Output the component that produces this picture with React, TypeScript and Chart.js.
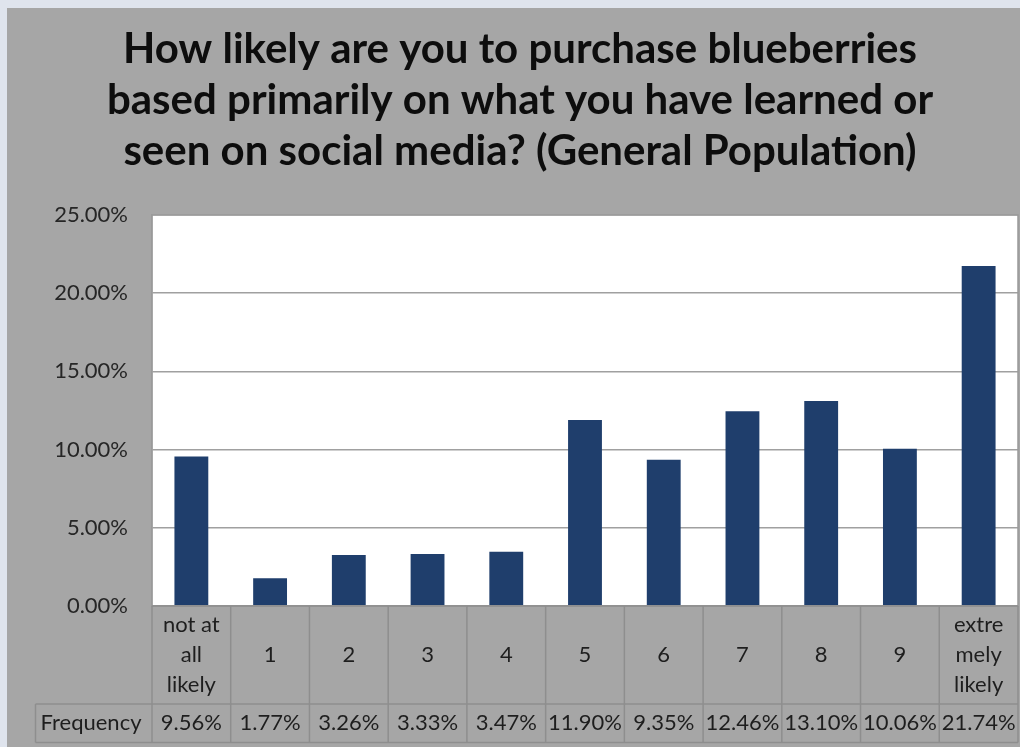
import React, { useEffect, useRef } from "react";
import { Chart, registerables } from "chart.js";

Chart.register(...registerables);

const titleLines = [
  "How likely are you to purchase blueberries",
  "based primarily on what you have learned or",
  "seen on social media? (General Population)",
];
const categoryLabels: string[][] = [
  ["not at", "all", "likely"],
  ["1"],
  ["2"],
  ["3"],
  ["4"],
  ["5"],
  ["6"],
  ["7"],
  ["8"],
  ["9"],
  ["extre", "mely", "likely"],
];
const frequencyValues = [9.56, 1.77, 3.26, 3.33, 3.47, 11.9, 9.35, 12.46, 13.1, 10.06, 21.74];
const seriesName = "Frequency";
const yTicks = [0, 5, 10, 15, 20, 25];

const FONT = "Lato, 'Open Sans', sans-serif";
const TEXT = "#1e1e1e";
const LINE = "#8e8e8e";

const tablePlugin = {
  id: "dataTable",
  beforeDraw(chart: any) {
    const { ctx, chartArea } = chart;
    ctx.save();
    ctx.fillStyle = "#ffffff";
    ctx.fillRect(chartArea.left, chartArea.top, chartArea.right - chartArea.left, chartArea.bottom - chartArea.top);
    ctx.restore();
  },
  afterDraw(chart: any) {
    const { ctx, chartArea } = chart;
    const xs = chart.scales.x;
    const n = categoryLabels.length;
    const colW = (chartArea.right - chartArea.left) / n;
    const top = chartArea.bottom;
    const catBottom = top + 98;
    const freqBottom = catBottom + 38.5;
    const labelLeft = 28.5;

    ctx.save();
    // plot frame
    ctx.strokeStyle = "#9a9a9a";
    ctx.lineWidth = 1.5;
    ctx.strokeRect(chartArea.left, chartArea.top, chartArea.right - chartArea.left, chartArea.bottom - chartArea.top);

    // table lines
    ctx.strokeStyle = LINE;
    ctx.lineWidth = 1.5;
    ctx.beginPath();
    ctx.moveTo(chartArea.left, top);
    ctx.lineTo(chartArea.right, top);
    ctx.moveTo(labelLeft, catBottom);
    ctx.lineTo(chartArea.right, catBottom);
    ctx.moveTo(labelLeft, freqBottom);
    ctx.lineTo(chartArea.right, freqBottom);
    ctx.moveTo(labelLeft, catBottom);
    ctx.lineTo(labelLeft, freqBottom);
    for (let i = 0; i <= n; i++) {
      const x = chartArea.left + i * colW;
      ctx.moveTo(x, top);
      ctx.lineTo(x, freqBottom);
    }
    ctx.stroke();

    // texts
    ctx.fillStyle = TEXT;
    ctx.font = `22px ${FONT}`;
    ctx.textBaseline = "middle";
    ctx.textAlign = "center";
    const catMid = (top + catBottom) / 2;
    const lh = 30;
    categoryLabels.forEach((lines, i) => {
      const cx = xs.getPixelForValue(i);
      const start = catMid - ((lines.length - 1) * lh) / 2;
      lines.forEach((t, j) => ctx.fillText(t, cx, start + j * lh));
    });
    const freqMid = (catBottom + freqBottom) / 2;
    frequencyValues.forEach((v, i) => {
      const cx = xs.getPixelForValue(i);
      ctx.fillText(`${v.toFixed(2)}%`, cx, freqMid);
    });
    ctx.textAlign = "left";
    ctx.fillText(seriesName, labelLeft + 5, freqMid);
    ctx.restore();
  },
};

export default function App() {
  const ref = useRef<HTMLCanvasElement | null>(null);

  useEffect(() => {
    if (!ref.current) return;
    const chart = new Chart(ref.current, {
      type: "bar",
      data: {
        labels: categoryLabels.map((l) => l.join(" ")),
        datasets: [
          {
            label: seriesName,
            data: frequencyValues,
            backgroundColor: "#1f3e6c",
            borderWidth: 0,
            barPercentage: 0.43,
            categoryPercentage: 1,
          },
        ],
      },
      options: {
        responsive: false,
        animation: false,
        layout: { padding: { left: 15, right: 2, top: 0, bottom: 141 } },
        plugins: {
          legend: { display: false },
          tooltip: { enabled: false },
          title: {
            display: true,
            text: titleLines,
            color: "#0d0d0d",
            font: { family: FONT, size: 42, weight: "bold", lineHeight: 51 / 42 },
            padding: { top: 15.5, bottom: 38.5 },
          },
        },
        scales: {
          x: {
            display: false,
          },
          y: {
            min: 0,
            max: 25,
            afterFit: (s: any) => {
              s.width = 130;
            },
            afterBuildTicks: (s: any) => {
              s.ticks = yTicks.map((v) => ({ value: v }));
            },
            ticks: {
              padding: 24,
              color: "#262626",
              font: { family: FONT, size: 22 },
              callback: (v: any) => `${Number(v).toFixed(2)}%`,
            },
            grid: { color: "#a0a0a0", lineWidth: 1.5, drawTicks: false },
            border: { display: true, color: "#9a9a9a", width: 1.5 },
          },
        },
      },
      plugins: [tablePlugin],
    });
    return () => chart.destroy();
  }, []);

  return (
    <div
      style={{
        position: "absolute",
        left: 0,
        top: 0,
        width: 1020,
        height: 747,
        overflow: "hidden",
        background: "#dfe4ed",
      }}
    >
      <canvas
        ref={ref}
        width={1013}
        height={739}
        style={{ position: "absolute", left: 7, top: 8, width: 1013, height: 739, background: "#a6a6a6" }}
      />
    </div>
  );
}
